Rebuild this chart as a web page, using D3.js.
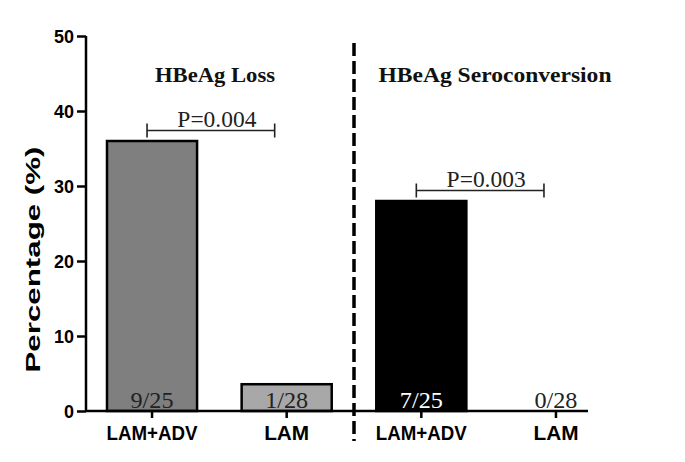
<!DOCTYPE html>
<html>
<head>
<meta charset="utf-8">
<script src="https://cdn.jsdelivr.net/npm/d3@7"></script>
<style>
  html, body { margin: 0; padding: 0; background: #fff; }
  svg { display: block; }
</style>
</head>
<body>
<svg id="chart" width="685" height="462"></svg>
<script>
// ---- data ----
const groupTitles = ["HBeAg Loss", "HBeAg Seroconversion"];
const categories = ["LAM+ADV", "LAM", "LAM+ADV", "LAM"];
const values = [36, 3.57, 28, 0];
const fractions = ["9/25", "1/28", "7/25", "0/28"];
const pValues = ["P=0.004", "P=0.003"];
const yTicks = [0, 10, 20, 30, 40, 50];
const yTitle = "Percentage (%)";

// ---- styles ----
const barFills = ["#7f7f7f", "#a8a8a8", "#000000", "#ffffff"];
const fracColors = ["#222", "#222", "#fff", "#222"];
const serif = "'Liberation Serif', 'Times New Roman', serif";
const sans = "'Liberation Sans', Arial, sans-serif";

const svg = d3.select("#chart");
const ids = categories.map((c, i) => i);

const y = d3.scaleLinear().domain([0, 50]).range([411, 36]);
const x = d3.scaleBand().domain(ids).range([86, 622])
  .paddingInner(0.331).paddingOuter(0.156);
const cx = i => x(i) + x.bandwidth() / 2;

// Y axis
const yAxis = svg.append("g").attr("transform", "translate(86,0)")
  .call(d3.axisLeft(y).tickValues(yTicks).tickSize(9).tickPadding(3));
yAxis.select(".domain").attr("stroke", "#000").attr("stroke-width", 2.5)
  .attr("d", `M0,${y(50)}V${y(0)}`);
yAxis.selectAll(".tick line").attr("stroke", "#000").attr("stroke-width", 2.5);
yAxis.selectAll(".tick text").attr("fill", "#000")
  .style("font-family", sans).style("font-weight", "bold").style("font-size", "18px")
  .attr("dy", "0.36em")
  .attr("textLength", d => d === 0 ? 10 : 20).attr("lengthAdjust", "spacingAndGlyphs");

// Bars
svg.append("g").selectAll("rect").data(ids).join("rect")
  .attr("x", i => x(i))
  .attr("width", x.bandwidth())
  .attr("y", i => y(values[i]))
  .attr("height", i => y(0) - y(values[i]))
  .attr("fill", i => barFills[i])
  .attr("stroke", "#000")
  .attr("stroke-width", i => values[i] > 0 ? 2.5 : 0);

// X axis
const xAxis = svg.append("g").attr("transform", `translate(0,${y(0)})`)
  .call(d3.axisBottom(x).tickSize(7).tickPadding(4).tickFormat(i => categories[i]));
xAxis.select(".domain").attr("stroke", "#000").attr("stroke-width", 2.5)
  .attr("d", "M86,0H588");
xAxis.selectAll(".tick line").attr("stroke", "#000").attr("stroke-width", 2.5);
xAxis.selectAll(".tick text").attr("fill", "#000")
  .attr("y", 29).attr("dy", 0)
  .style("font-family", sans).style("font-weight", "bold").style("font-size", "20px")
  .attr("textLength", i => categories[i] === "LAM" ? 45 : 91)
  .attr("lengthAdjust", "spacingAndGlyphs");

// Fraction labels inside bars
svg.append("g").selectAll("text").data(ids).join("text")
  .attr("x", cx)
  .attr("y", y(0) - 3)
  .attr("text-anchor", "middle")
  .attr("fill", i => fracColors[i])
  .style("font-family", serif).style("font-size", "23px")
  .attr("textLength", 43).attr("lengthAdjust", "spacingAndGlyphs")
  .text(i => fractions[i]);

// Divider dashed line
const divX = (cx(1) + cx(2)) / 2;
svg.append("line")
  .attr("x1", divX).attr("x2", divX)
  .attr("y1", 43).attr("y2", 441)
  .attr("stroke", "#000").attr("stroke-width", 3.5)
  .attr("stroke-dasharray", "13,5");

// Group titles
const titleCenters = [215, 495];
const titleLens = [120, 233];
svg.append("g").selectAll("text").data(groupTitles).join("text")
  .attr("x", (d, g) => titleCenters[g])
  .attr("y", 82)
  .attr("text-anchor", "middle")
  .attr("fill", "#111")
  .style("font-family", serif).style("font-weight", "bold").style("font-size", "21px")
  .attr("textLength", (d, g) => titleLens[g]).attr("lengthAdjust", "spacingAndGlyphs")
  .text(d => d);

// Significance brackets
const pairs = [[0, 1], [2, 3]];
const br = svg.append("g");
pairs.forEach((p, g) => {
  const x1 = cx(p[0]) - 5, x2 = cx(p[1]) - 12;
  const top = Math.max(values[p[0]], values[p[1]]);
  const by = y(top) - 10.5;
  br.append("path")
    .attr("d", `M${x1},${by - 7}V${by + 7}M${x1},${by}H${x2}M${x2},${by - 7}V${by + 7}`)
    .attr("fill", "none").attr("stroke", "#222").attr("stroke-width", 1.6);
  br.append("text")
    .attr("x", (x1 + x2) / 2 + 6)
    .attr("y", by - 4)
    .attr("text-anchor", "middle")
    .attr("fill", "#222")
    .style("font-family", serif).style("font-size", "23px")
    .attr("textLength", 79).attr("lengthAdjust", "spacingAndGlyphs")
    .text(pValues[g]);
});

// Y title
svg.append("text")
  .attr("transform", `translate(40,${(y(0) + y(50)) / 2 + 36}) rotate(-90)`)
  .attr("text-anchor", "middle")
  .attr("fill", "#000")
  .style("font-family", sans).style("font-weight", "bold").style("font-size", "20px")
  .attr("textLength", 226).attr("lengthAdjust", "spacingAndGlyphs")
  .text(yTitle);
</script>
</body>
</html>
